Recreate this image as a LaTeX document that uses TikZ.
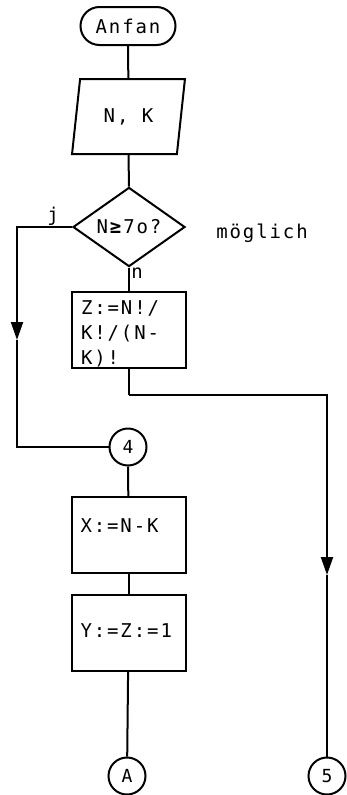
\documentclass[tikz,border=0pt]{standalone}
\usepackage{fontspec}
\setmainfont[LetterSpace=10]{DejaVu Sans Mono}
\usetikzlibrary{shapes.geometric,arrows.meta}
\begin{document}
\begin{tikzpicture}[x=1pt,y=-1pt,
  every node/.style={font=\fontsize{19}{25}\selectfont},
  ln/.style={line width=2pt},
  term/.style={draw,ln,rectangle,rounded corners=19pt,minimum width=95pt,minimum height=38pt,inner sep=0pt},
  iobox/.style={draw,ln,trapezium,trapezium left angle=76,trapezium right angle=104,trapezium stretches=true,minimum width=113pt,minimum height=75pt,inner sep=0pt},
  decide/.style={draw,ln,diamond,minimum width=112pt,minimum height=74pt,inner sep=0pt},
  proc/.style={draw,ln,rectangle,minimum width=114pt,minimum height=76pt,inner sep=0pt,text width=96pt,align=left},
  conn/.style={draw,ln,circle,minimum size=37pt,inner sep=0pt,font=\fontsize{18}{20}\selectfont},
  tip/.style={-{Triangle[width=12pt,length=18pt]}}
]
\useasboundingbox (0,0) rectangle (346,795);

\node[term] (start) at (128,26) {Anfan};
\node[iobox] (io) at (128.5,116.5) {N, K};
\node[decide] (dec) at (129,227) {N\textbf{≥}7o?};
\node[proc] (z) at (129,330) {\rule{0pt}{21pt}Z:=N!/\\K!/(N-\\K)!};
\node[conn] (c4) at (128,447) {4};
\node[proc,text height=14pt,text depth=20pt] (x) at (128.5,535) {X:=N-K};
\node[proc,text height=14pt,text depth=6pt] (y) at (128.5,633) {Y:=Z:=1};
\node[conn] (cA) at (127,776) {A};
\node[conn] (c5) at (327,776) {5};

\node (jl) at (53,216) {j};
\node (nl) at (137,273) {n};
\node (mg) at (262,233) {möglich};

\coordinate (la) at (17,340);
\coordinate (zb) at (129,395);
\coordinate (ra) at (327,575);

\draw[ln] (start) -- (io);
\draw[ln] (io) -- (dec);
\draw[ln] (dec) -- (z);
\draw[ln,tip] (dec.west) -| (la);
\draw[ln] (la) |- (c4.west);
\draw[ln] (z.south) -- (zb);
\draw[ln,tip] (zb) -| (ra);
\draw[ln] (ra) -- (c5.north);
\draw[ln] (c4) -- (x);
\draw[ln] (x) -- (y);
\draw[ln] (y) -- (cA);
\end{tikzpicture}
\end{document}
